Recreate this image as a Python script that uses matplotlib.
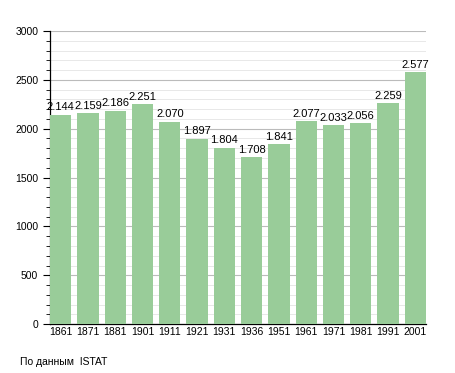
import matplotlib
matplotlib.use("Agg")
import matplotlib.pyplot as plt
from matplotlib.ticker import MultipleLocator

years = ["1861", "1871", "1881", "1901", "1911", "1921", "1931", "1936", "1951", "1961", "1971", "1981", "1991", "2001"]
population = [2144, 2159, 2186, 2251, 2070, 1897, 1804, 1708, 1841, 2077, 2033, 2056, 2259, 2577]
labels = ["2.144", "2.159", "2.186", "2.251", "2.070", "1.897", "1.804", "1.708", "1.841", "2.077", "2.033", "2.056", "2.259", "2.577"]

plt.rcParams['font.family'] = ['Liberation Sans', 'DejaVu Sans']

fig = plt.figure(figsize=(4.55, 3.73), dpi=100)
ax = fig.add_axes([0.110, 0.131, 0.826, 0.786])

x = list(range(len(years)))
ax.bar(x, population, width=0.78, color="#99cc99", zorder=3)
for xi, v, lab in zip(x, population, labels):
    ax.text(xi, v + 25, lab, ha="center", va="bottom", fontsize=8, color="#000000", zorder=4)

ax.set_xlim(-0.39, len(years) - 1 + 0.39)
ax.set_ylim(0, 3000)
ax.set_xticks(x)
ax.set_xticklabels(years, fontsize=7.5)
ax.yaxis.set_major_locator(MultipleLocator(500))
ax.yaxis.set_minor_locator(MultipleLocator(100))
ax.tick_params(axis="y", which="major", labelsize=7.5, length=5, width=0.8, direction="out")
ax.tick_params(axis="y", which="minor", length=3, width=0.6, direction="out")
ax.tick_params(axis="x", length=0, pad=2)
ax.grid(axis="y", which="major", color="#bbbbbb", linewidth=0.8, zorder=0)
ax.grid(axis="y", which="minor", color="#e4e4e4", linewidth=0.6, zorder=0)
for s in ["top", "right"]:
    ax.spines[s].set_visible(False)
ax.spines["left"].set_linewidth(0.9)
ax.spines["bottom"].set_linewidth(0.9)

fig.text(20 / 455, 1 - 362 / 373, "По данным  ISTAT", fontsize=7.5, ha="left", va="center")

fig.savefig("out.png", dpi=100)
